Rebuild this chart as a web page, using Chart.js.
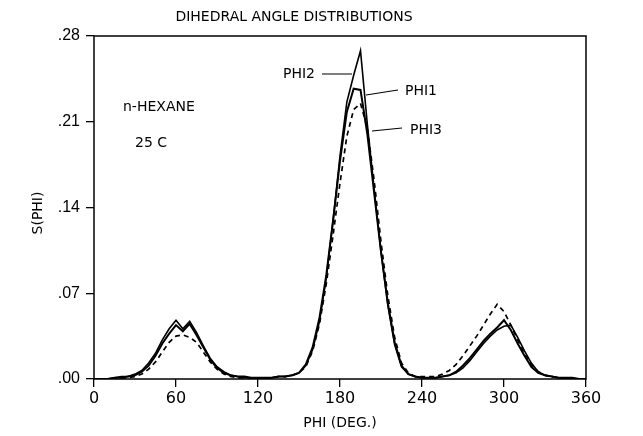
<!DOCTYPE html>
<html lang="en">
<head>
<meta charset="UTF-8">
<title>Dihedral angle distributions</title>
<script src="https://cdn.jsdelivr.net/npm/chart.js"></script>
<style>
  html, body { margin: 0; padding: 0; background: #fff; }
  #wrap { width: 643px; height: 436px; }
</style>
</head>
<body>
<div id="wrap"><canvas id="chart" width="643" height="436"></canvas></div>
<script>
// angles every 5 degrees, 0..360
var angles = [0, 5, 10, 15, 20, 25, 30, 35, 40, 45,
              50, 55, 60, 65, 70, 75, 80, 85, 90, 95,
              100, 105, 110, 115, 120, 125, 130, 135, 140, 145,
              150, 155, 160, 165, 170, 175, 180, 185, 190, 195,
              200, 205, 210, 215, 220, 225, 230, 235, 240, 245,
              250, 255, 260, 265, 270, 275, 280, 285, 290, 295,
              300, 305, 310, 315, 320, 325, 330, 335, 340, 345,
              350, 355, 360];

var phi1 = [0, 0, 0, 0.001, 0.001, 0.002, 0.003, 0.006, 0.011, 0.019,
            0.029, 0.037, 0.044, 0.039, 0.045, 0.036, 0.026, 0.016, 0.009, 0.005,
            0.003, 0.002, 0.002, 0.001, 0.001, 0.001, 0.001, 0.002, 0.002, 0.003,
            0.005, 0.012, 0.026, 0.050, 0.085, 0.130, 0.178, 0.218, 0.237, 0.236,
            0.200, 0.152, 0.104, 0.062, 0.030, 0.011, 0.004, 0.002, 0.001, 0.001,
            0.001, 0.002, 0.003, 0.006, 0.011, 0.017, 0.024, 0.031, 0.037, 0.042,
            0.048, 0.040, 0.029, 0.019, 0.010, 0.005, 0.003, 0.002, 0.001, 0.001,
            0.001, 0, 0];
var phi2 = [0, 0, 0, 0.001, 0.002, 0.002, 0.004, 0.007, 0.013, 0.021,
            0.032, 0.041, 0.048, 0.041, 0.047, 0.038, 0.027, 0.017, 0.010, 0.006,
            0.003, 0.002, 0.001, 0.001, 0.001, 0.001, 0.001, 0.002, 0.002, 0.003,
            0.005, 0.011, 0.024, 0.047, 0.083, 0.130, 0.182, 0.226, 0.248, 0.268,
            0.208, 0.155, 0.104, 0.060, 0.028, 0.010, 0.004, 0.002, 0.001, 0.001,
            0.001, 0.002, 0.003, 0.005, 0.009, 0.015, 0.022, 0.029, 0.035, 0.040,
            0.043, 0.044, 0.034, 0.023, 0.013, 0.006, 0.003, 0.002, 0.001, 0.001,
            0, 0, 0];
var phi3 = [0, 0, 0, 0, 0.001, 0.001, 0.002, 0.004, 0.008, 0.014,
            0.022, 0.030, 0.035, 0.036, 0.034, 0.030, 0.022, 0.014, 0.008, 0.004,
            0.002, 0.001, 0.001, 0.001, 0.001, 0.001, 0.001, 0.002, 0.002, 0.003,
            0.005, 0.010, 0.023, 0.045, 0.078, 0.118, 0.160, 0.198, 0.220, 0.225,
            0.205, 0.162, 0.112, 0.068, 0.034, 0.013, 0.005, 0.002, 0.002, 0.002,
            0.002, 0.004, 0.007, 0.012, 0.019, 0.027, 0.035, 0.044, 0.053, 0.061,
            0.055, 0.044, 0.032, 0.021, 0.012, 0.006, 0.003, 0.002, 0.001, 0.001,
            0, 0, 0];

var xTicks = [0, 60, 120, 180, 240, 300, 360];
var yTicks = [0, 0.07, 0.14, 0.21, 0.28];

var plotFont = "'DejaVu Sans', sans-serif";

function pts(vals) {
    return vals.map(function (v, i) { return { x: angles[i], y: v }; });
}

// box, title, axis name on the left and the hand lettered notes
var extras = {
    id: "extras",
    afterDraw: function (chart) {
        var c = chart.ctx, ar = chart.chartArea;
        c.save();
        c.strokeStyle = "#000";
        c.lineWidth = 1.5;
        c.strokeRect(ar.left, ar.top, ar.right - ar.left, ar.bottom - ar.top);

        c.fillStyle = "#000";
        c.font = "14px " + plotFont;
        c.textAlign = "center";
        c.textBaseline = "middle";
        c.fillText("DIHEDRAL ANGLE DISTRIBUTIONS", 294, 17);

        c.save();
        c.translate(38, 213);
        c.rotate(-Math.PI / 2);
        c.fillText("S(PHI)", 0, 0);
        c.restore();

        c.textAlign = "left";
        c.font = "14px " + plotFont;
        c.fillText("n-HEXANE", 123, 107);
        c.fillText("25 C", 135, 143);

        c.fillText("PHI2", 283, 74);
        c.fillText("PHI1", 405, 91);
        c.fillText("PHI3", 410, 130);

        c.lineWidth = 1.2;
        c.beginPath();
        c.moveTo(322, 74); c.lineTo(352, 74);
        c.moveTo(366, 95); c.lineTo(398, 90);
        c.moveTo(372, 131); c.lineTo(402, 128);
        c.stroke();
        c.restore();
    }
};

new Chart(document.getElementById("chart"), {
    type: "line",
    data: {
        datasets: [
            { label: "PHI1", data: pts(phi1), borderColor: "#000", borderWidth: 2, pointRadius: 0, tension: 0 },
            { label: "PHI2", data: pts(phi2), borderColor: "#000", borderWidth: 1.6, pointRadius: 0, tension: 0 },
            { label: "PHI3", data: pts(phi3), borderColor: "#000", borderWidth: 1.7, borderDash: [5, 4], pointRadius: 0, tension: 0 }
        ]
    },
    options: {
        responsive: false,
        animation: false,
        layout: { padding: { left: 0, top: 36, right: 57, bottom: 0 } },
        plugins: {
            legend: { display: false },
            tooltip: { enabled: false }
        },
        scales: {
            x: {
                type: "linear",
                min: 0,
                max: 360,
                afterBuildTicks: function (s) { s.ticks = xTicks.map(function (v) { return { value: v }; }); },
                afterFit: function (s) { s.height = 57; },
                grid: { drawOnChartArea: false, drawTicks: true, tickLength: 8, color: "#000", lineWidth: 1.3 },
                border: { display: false },
                ticks: { color: "#000", font: { family: plotFont, size: 16 }, padding: 2, maxRotation: 0 },
                title: { display: true, text: "PHI (DEG.)", color: "#000", font: { family: plotFont, size: 14 }, padding: { top: 0 } }
            },
            y: {
                min: 0,
                max: 0.28,
                afterBuildTicks: function (s) { s.ticks = yTicks.map(function (v) { return { value: v }; }); },
                afterFit: function (s) { s.width = 94; },
                grid: { drawOnChartArea: false, drawTicks: true, tickLength: 8, color: "#000", lineWidth: 1.3 },
                border: { display: false },
                ticks: {
                    color: "#000",
                    font: { family: "'Liberation Sans', sans-serif", size: 16 },
                    padding: 6,
                    callback: function (v) { return v.toFixed(2).replace(/^0/, ""); }
                }
            }
        }
    },
    plugins: [extras]
});
</script>
</body>
</html>
